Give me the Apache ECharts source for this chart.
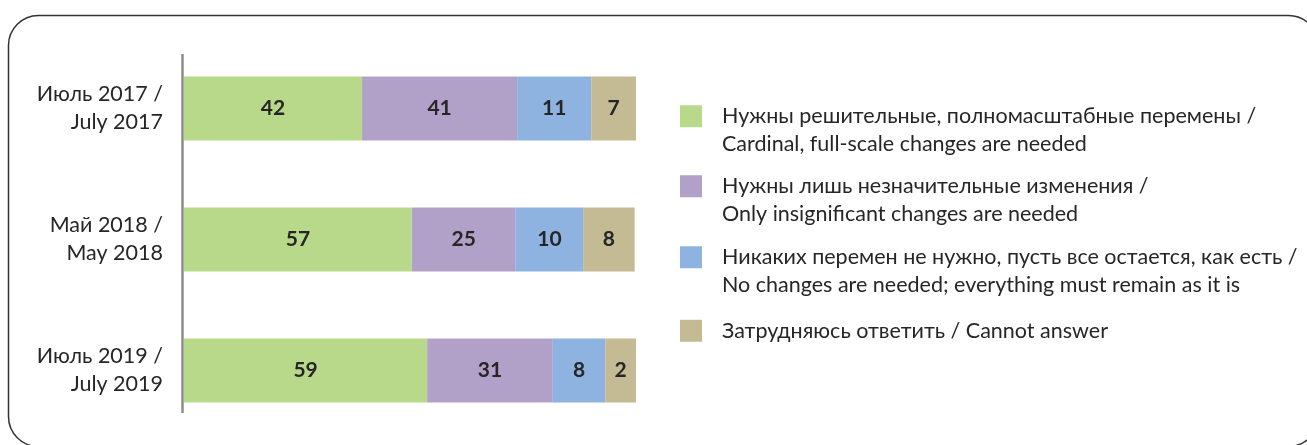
<!DOCTYPE html>
<html>
<head>
<meta charset="utf-8">
<script src="https://cdn.jsdelivr.net/npm/echarts@6/dist/echarts.min.js"></script>
<style>
  html, body { margin: 0; padding: 0; background: #fff; }
  #chart { width: 1307px; height: 445px; }
</style>
</head>
<body>
<div id="chart"></div>
<script>
// periods (top to bottom)
var periods = ['Июль 2017 /\nJuly 2017', 'Май 2018 /\nMay 2018', 'Июль 2019 /\nJuly 2019'];

// printed answers, % of respondents
var cardinal = [42, 57, 59];
var insignificant = [41, 25, 31];
var noChanges = [11, 10, 8];
var cannotAnswer = [7, 8, 2];

// segment lengths as drawn in the source, % of the full bar
var cardinalBar = [39.4, 50.4, 53.8];
var insignificantBar = [34.3, 23.0, 27.8];
var noChangesBar = [16.4, 14.9, 11.6];
var cannotAnswerBar = [10.0, 11.4, 6.9];

var seriesNames = [
    'Нужны решительные, полномасштабные перемены /\nCardinal, full-scale changes are needed',
    'Нужны лишь незначительные изменения /\nOnly insignificant changes are needed',
    'Никаких перемен не нужно, пусть все остается, как есть /\nNo changes are needed; everything must remain as it is',
    'Затрудняюсь ответить / Cannot answer'
];
var seriesColors = ['#B9D98A', '#B1A1C8', '#8EB3E0', '#C4BA94'];

var FONT = 'Lato';
var TXT = '#262626';

var labels = [cardinal, insignificant, noChanges, cannotAnswer];
var lengths = [cardinalBar, insignificantBar, noChangesBar, cannotAnswerBar];

var series = lengths.map(function (vals, k) {
    return {
        name: seriesNames[k],
        type: 'bar',
        stack: 'total',
        barWidth: 64,
        itemStyle: { color: seriesColors[k] },
        label: {
            show: true,
            position: 'inside',
            fontFamily: FONT,
            fontWeight: 'bold',
            fontSize: 21,
            color: TXT,
            formatter: function (p) { return labels[k][p.dataIndex]; }
        },
        data: vals
    };
});

// one legend per item; two-line names get an empty line on top so the
// marker lines up with the first line of text
var legendTops = [75, 145, 216, 317];
var legends = seriesNames.map(function (name, k) {
    return {
        data: [name],
        left: 680,
        top: legendTops[k],
        padding: 0,
        itemWidth: 22,
        itemHeight: 22,
        icon: 'rect',
        selectedMode: false,
        formatter: function (n) {
            return n.indexOf('\n') >= 0 ? '\n' + n : n;
        },
        textStyle: {
            fontFamily: FONT,
            fontSize: 21.5,
            color: TXT,
            lineHeight: 27.5,
            padding: [0, 0, 0, 15]
        }
    };
});

var myChart = echarts.init(document.getElementById('chart'));
var option = {
    animation: false,
    legend: legends,
    grid: { left: 184, width: 452, top: 43, height: 393 },
    xAxis: { type: 'value', min: 0, max: 100, show: false },
    yAxis: {
        type: 'category',
        inverse: true,
        data: periods,
        axisLine: { show: false },
        axisTick: { show: false },
        axisLabel: {
            margin: 21,
            fontFamily: FONT,
            fontSize: 21.5,
            lineHeight: 28,
            color: TXT,
            align: 'right'
        }
    },
    graphic: [
        {
            type: 'rect',
            shape: { x: 8.5, y: 15.5, width: 1310, height: 431, r: 30 },
            style: { fill: 'none', stroke: '#333', lineWidth: 1.5 },
            silent: true
        },
        {
            type: 'line',
            shape: { x1: 182.5, y1: 54, x2: 182.5, y2: 413 },
            style: { stroke: '#8c8c8c', lineWidth: 2.5 },
            silent: true
        }
    ],
    series: series
};
myChart.setOption(option);
</script>
</body>
</html>
